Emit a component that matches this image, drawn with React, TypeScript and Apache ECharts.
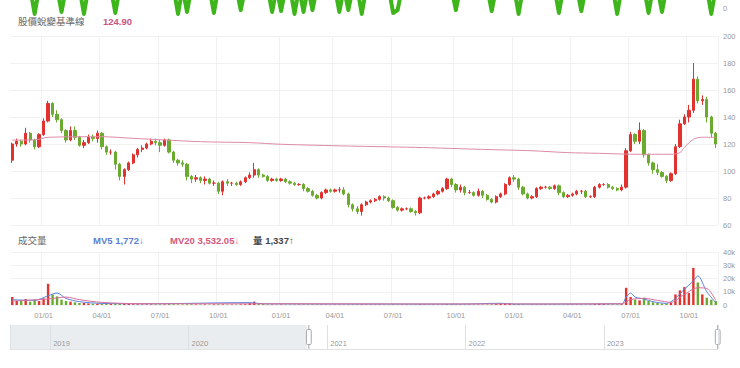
import React, { useEffect, useRef } from 'react';
import * as echarts from 'echarts';

const FONT = '"Liberation Sans", "Noto Sans CJK TC", sans-serif';

// weekly categories (Fridays) from 2020-11-13, 158 weeks
const FIRST_WEEK = '2020-11-13';
const WEEK_COUNT = 158;
const categories: string[] = [];
{
  const d0 = new Date(FIRST_WEEK + 'T00:00:00Z');
  for (let i = 0; i < WEEK_COUNT; i++) {
    const d = new Date(d0.getTime() + i * 7 * 86400000);
    categories.push(d.toISOString().slice(0, 10));
  }
}

// [open, close, low, high]
const candles: number[][] = [
  [108, 120, 106, 121], [120, 122, 118, 124], [122, 120, 118, 123], [120, 128, 119, 132], [128, 123, 121, 129],
  [123, 118, 116, 124], [118, 127, 117, 128], [127, 137, 126, 139], [137, 150, 136, 152], [150, 142, 140, 151],
  [142, 138, 136, 145], [138, 130, 128, 139], [130, 123, 121, 131], [123, 130, 122, 133], [130, 125, 123, 133],
  [125, 119, 118, 126], [119, 121, 117, 123], [121, 125, 120, 127], [125, 124, 122, 127], [124, 128, 121, 130],
  [128, 118, 116, 129], [118, 114, 112, 119], [114, 114, 112, 116], [114, 105, 101, 115], [105, 96, 93, 106],
  [96, 101, 90, 102], [101, 106, 100, 107], [106, 112, 105, 113], [112, 116, 110, 117], [116, 117, 114, 119],
  [117, 120, 116, 121], [120, 122, 119, 124], [122, 121, 119, 124], [121, 119, 114, 123], [119, 123, 118, 124],
  [123, 114, 113, 124], [114, 108, 106, 115], [108, 106, 104, 109], [106, 105, 103, 108], [105, 96, 93, 106],
  [96, 94, 91, 97], [94, 95, 92, 97], [95, 93, 91, 96], [93, 94, 90, 96], [94, 91, 90, 95],
  [91, 91, 89, 93], [91, 85, 83, 92], [85, 92, 82, 93], [92, 91, 89, 94], [91, 91, 89, 92],
  [91, 90, 89, 92], [90, 92, 89, 93], [92, 95, 91, 96], [95, 97, 94, 99], [97, 101, 95, 106],
  [101, 97, 95, 102], [97, 96, 95, 98], [96, 93, 92, 97], [93, 94, 92, 95], [94, 93, 92, 95],
  [93, 94, 92, 95], [94, 92, 91, 95], [92, 91, 90, 93], [91, 90, 89, 92], [90, 90, 89, 91],
  [90, 87, 85, 91], [87, 85, 84, 88], [85, 82, 81, 86], [82, 80, 79, 83], [80, 84, 79, 85],
  [84, 86, 83, 87], [86, 85, 84, 87], [85, 86, 84, 87], [86, 86, 84, 88], [86, 83, 82, 88],
  [83, 75, 73, 84], [75, 72, 70, 76], [72, 70, 68, 74], [70, 75, 67, 76], [75, 77, 74, 78],
  [77, 78, 76, 79], [78, 79, 77, 80], [79, 81, 78, 82], [81, 80, 78, 82], [80, 78, 77, 81],
  [78, 73, 72, 79], [73, 71, 70, 74], [71, 72, 70, 73], [72, 72, 71, 73], [72, 70, 69, 73],
  [70, 69, 67, 71], [69, 80, 68, 81], [80, 80, 79, 81], [80, 81, 79, 82], [81, 83, 80, 84],
  [83, 85, 82, 86], [85, 87, 84, 88], [87, 94, 86, 95], [94, 90, 88, 95], [90, 86, 84, 91],
  [86, 88, 84, 90], [88, 84, 82, 89], [84, 84, 83, 86], [84, 82, 81, 85], [82, 85, 81, 87],
  [85, 82, 80, 86], [82, 79, 78, 83], [79, 77, 76, 80], [77, 81, 76, 82], [81, 83, 80, 84],
  [83, 90, 82, 91], [90, 95, 89, 96], [95, 94, 92, 97], [94, 88, 86, 95], [88, 83, 82, 89],
  [83, 80, 79, 84], [80, 81, 79, 82], [81, 87, 80, 88], [87, 88, 86, 89], [88, 88, 87, 89],
  [88, 87, 86, 89], [87, 89, 86, 90], [89, 84, 82, 90], [84, 81, 80, 85], [81, 82, 80, 83],
  [82, 83, 81, 84], [83, 85, 82, 86], [85, 85, 83, 86], [85, 81, 80, 86], [81, 81, 80, 82],
  [81, 88, 80, 89], [88, 90, 87, 91], [90, 90, 89, 91], [90, 88, 87, 91], [88, 87, 86, 89],
  [87, 86, 85, 88], [86, 88, 85, 90], [88, 115, 87, 117], [115, 127, 114, 129], [127, 122, 120, 128],
  [122, 130, 120, 136], [130, 112, 110, 131], [112, 106, 104, 113], [106, 101, 98, 107], [101, 99, 97, 105],
  [99, 96, 95, 100], [96, 93, 91, 97], [93, 98, 92, 99], [98, 118, 97, 120], [118, 135, 117, 138],
  [135, 140, 134, 142], [140, 145, 136, 149], [145, 168, 143, 180], [168, 152, 150, 170], [152, 153, 149, 156],
  [153, 140, 136, 155], [140, 128, 125, 141], [128, 120, 117, 129],
];

// 股價蛻變基準線 (week index, value)
const baseLine: [number, number][] = [
  [0, 122.9], [5, 123], [8, 125], [20, 125.4], [27, 124.2], [34, 123], [42, 121.7], [53, 121],
  [60, 119.8], [75, 118.5], [90, 117.5], [105, 116], [116, 115], [124, 113.6], [131, 113.1],
  [139, 112.4], [147, 112.4], [149, 113.6], [150, 117.5], [152, 123.5], [154, 125], [157, 124.9],
];

const volumes: number[] = [
  6000, 3000, 3000, 4500, 2500, 4000, 3000, 5000, 16000, 8000,
  6500, 4000, 3000, 2500, 2000, 1500, 1500, 1200, 1000, 1000,
  900, 800, 700, 800, 1100, 900, 700, 600, 600, 500,
  500, 500, 600, 500, 500, 700, 600, 500, 500, 600,
  600, 500, 500, 500, 400, 500, 600, 500, 400, 400,
  400, 500, 600, 1500, 2500, 1200, 700, 500, 500, 400,
  400, 400, 400, 400, 400, 500, 500, 500, 500, 400,
  400, 400, 400, 400, 400, 500, 500, 500, 500, 400,
  400, 400, 400, 400, 400, 500, 400, 400, 400, 400,
  400, 600, 500, 400, 400, 400, 400, 600, 500, 400,
  400, 400, 400, 400, 400, 400, 400, 500, 700, 1200,
  1500, 1200, 800, 700, 500, 400, 400, 400, 400, 400,
  400, 400, 400, 400, 400, 400, 400, 400, 400, 400,
  700, 1000, 800, 600, 500, 500, 600, 13000, 6000, 4000,
  3500, 5500, 3000, 2000, 1500, 1000, 1000, 1500, 8000, 11000,
  13500, 9000, 28000, 17000, 8000, 5500, 4000, 3000,
];

const mv5: [number, number][] = [
  [0, 4000], [5, 3500], [8, 7000], [10, 9000], [12, 5000], [15, 2500], [20, 1200], [30, 900],
  [53, 1800], [56, 900], [100, 700], [109, 1300], [112, 700], [136, 900], [137, 6000], [138, 9000],
  [139, 6000], [141, 4500], [143, 2500], [146, 1200], [148, 5000], [150, 12000], [152, 18000],
  [153, 22000], [155, 10000], [157, 1800],
];
const mv20: [number, number][] = [
  [0, 3000], [8, 4500], [12, 6000], [15, 4000], [20, 2000], [28, 1000], [60, 900], [100, 800],
  [136, 900], [138, 4000], [141, 5000], [144, 3500], [147, 2000], [150, 8000], [153, 13000],
  [155, 12500], [157, 3500],
];

// bottom edge of the indicator panel above (week index, value)
const topPanel: [number, number][] = [
  [4, 10], [5, -3], [6, 10], [10, 10], [11, -2], [12, 10], [15, 10], [16, -3], [17, 10],
  [22, 10], [23, -2.5], [24, 10], [36, 10], [37, -3], [38, 10], [39, -2], [40, 10],
  [44, 10], [45, -2.5], [46, 10], [50, 10], [51, -1], [52, 10], [57, 10], [58, -2], [59, 10],
  [60, -1.5], [61, 10], [62, 10], [63, -3], [64, 10], [65, -2], [66, 10], [67, -1], [68, 10],
  [72, 10], [73, -2], [74, 10], [75, -1], [76, 10], [77, 10], [78, -3], [79, 10],
  [84, 10], [85, -2.5], [86, -1], [87, 10], [98, 10], [99, -1], [100, 10], [106, 10], [107, -1.5],
  [108, 10], [112, 10], [113, -3], [114, 10], [121, 10], [122, -2.5], [123, 10], [126, 10],
  [127, -1.5], [128, 10], [134, 10], [135, -3], [136, 10], [141, 10], [142, -2.5], [143, 10],
  [144, 10], [145, -2], [146, 10], [155, 10], [156, -3], [157, 10],
];

const SLIDER_RANGE = ['2018-09-17', '2023-10-29'];
const SLIDER_WINDOW = ['2020-11-09', '2023-10-29'];

const BASE_LABEL = '股價蛻變基準線';
const BASE_VALUE = '124.90';
const VOL_LABEL = '成交量';
const MV5_VALUE = '1,772↓';
const MV20_VALUE = '3,532.05↓';
const VOL_VALUE = '1,337↑';

const UP = '#e0322f';
const DOWN = '#6aab2f';

const ts = (s: string) => new Date(s + 'T00:00:00Z').getTime();

const isQuarterStart = (idx: number) => {
  if (idx === 0) return false;
  const m = Number(categories[idx].slice(5, 7));
  const pm = Number(categories[idx - 1].slice(5, 7));
  return m !== pm && (m === 1 || m === 4 || m === 7 || m === 10);
};

export default function App() {
  const ref = useRef<HTMLDivElement>(null);
  useEffect(() => {
    if (!ref.current) return;
    const chart = echarts.init(ref.current, undefined, { renderer: 'svg' });
    const axisLabelStyle = { color: '#999', fontSize: 7.5, fontFamily: FONT };
    const option: any = {
      animation: false,
      textStyle: { fontFamily: FONT },
      grid: [
        { left: 10, right: 22, top: 0, height: 36 },
        { left: 10, right: 22, top: 36, height: 189 },
        { left: 10, right: 22, top: 252, height: 53 },
        { left: 10, right: 22, top: 325, height: 24 },
      ],
      xAxis: [
        { type: 'category', gridIndex: 0, data: categories, show: false },
        {
          type: 'category', gridIndex: 1, data: categories,
          axisLine: { show: false }, axisTick: { show: false }, axisLabel: { show: false },
          splitLine: { show: true, interval: (i: number) => isQuarterStart(i), lineStyle: { color: '#f1f1f1' } },
        },
        {
          type: 'category', gridIndex: 2, data: categories,
          axisLine: { show: false }, axisTick: { show: false },
          axisLabel: {
            ...axisLabelStyle, margin: 7,
            interval: (i: number) => isQuarterStart(i),
            formatter: (v: string) => v.slice(5, 7) + '/01',
          },
          splitLine: { show: true, interval: (i: number) => isQuarterStart(i), lineStyle: { color: '#f1f1f1' } },
        },
        {
          type: 'time', gridIndex: 3, min: ts(SLIDER_RANGE[0]), max: ts(SLIDER_RANGE[1]), z: 10,
          minInterval: 365 * 86400000, maxInterval: 366 * 86400000,
          axisLine: { show: true, lineStyle: { color: '#e2e2e2' } }, axisTick: { show: false },
          splitLine: { show: true, lineStyle: { color: '#dde1e6' } },
          axisLabel: {
            ...axisLabelStyle, inside: true, margin: 2, align: 'left', padding: [0, 0, 0, 3],
            showMinLabel: false, showMaxLabel: false,
            formatter: (v: number) => {
              const d = new Date(v);
              return d.getUTCMonth() === 0 && d.getUTCDate() === 1 ? String(d.getUTCFullYear()) : '';
            },
          },
        },
        { type: 'time', gridIndex: 3, min: ts(SLIDER_RANGE[0]), max: ts(SLIDER_RANGE[1]), show: false, position: 'top' },
      ],
      yAxis: [
        {
          type: 'value', gridIndex: 0, min: -14, max: 4, interval: 2, position: 'right',
          axisLine: { show: false }, axisTick: { show: false }, splitLine: { show: false },
          axisLabel: { ...axisLabelStyle, margin: 5, formatter: (v: number) => (v === 0 ? '0' : '') },
        },
        {
          type: 'value', gridIndex: 1, min: 60, max: 200, interval: 20, position: 'right',
          axisLine: { show: false }, axisTick: { show: false },
          splitLine: { lineStyle: { color: '#f1f1f1' } },
          axisLabel: { ...axisLabelStyle, margin: 5 },
        },
        {
          type: 'value', gridIndex: 2, min: 0, max: 40000, interval: 10000, position: 'right',
          axisLine: { show: false }, axisTick: { show: false },
          splitLine: { lineStyle: { color: '#f1f1f1' } },
          axisLabel: { ...axisLabelStyle, margin: 5, formatter: (v: number) => (v === 0 ? '0' : v / 1000 + 'k') },
        },
        { type: 'value', gridIndex: 3, min: 0, max: 1, show: false },
      ],
      dataZoom: [
        {
          type: 'slider', xAxisIndex: 4, filterMode: 'none',
          startValue: ts(SLIDER_WINDOW[0]), endValue: ts(SLIDER_WINDOW[1]),
          left: 10, right: 22, top: 325, height: 24,
          showDetail: false, showDataShadow: false, brushSelect: false, moveHandleSize: 0,
          backgroundColor: 'transparent', fillerColor: 'transparent', borderColor: 'transparent',
          handleSize: '100%',
          handleStyle: { color: '#fff', borderColor: '#a8a8a8' },
        },
      ],
      series: [
        {
          type: 'line', xAxisIndex: 0, yAxisIndex: 0, data: topPanel, symbol: 'none',
          lineStyle: { color: '#3fb51c', width: 4, cap: 'round', join: 'round' }, clip: true, silent: true,
        },
        {
          type: 'candlestick', xAxisIndex: 1, yAxisIndex: 1, data: candles, barWidth: 2.8,
          itemStyle: { color: UP, color0: DOWN, borderColor: UP, borderColor0: DOWN, borderWidth: 1 },
        },
        {
          type: 'line', xAxisIndex: 1, yAxisIndex: 1, data: baseLine, symbol: 'none', smooth: 0.3,
          lineStyle: { color: '#dc8ba6', width: 1 },
        },
        {
          type: 'bar', xAxisIndex: 2, yAxisIndex: 2, barWidth: 2.4,
          data: volumes.map((v, i) => ({
            value: v,
            itemStyle: { color: candles[i][1] >= candles[i][0] ? UP : DOWN },
          })),
        },
        {
          type: 'line', xAxisIndex: 2, yAxisIndex: 2, data: mv5, symbol: 'none', smooth: 0.3,
          lineStyle: { color: '#5a84d8', width: 1 },
        },
        {
          type: 'line', xAxisIndex: 2, yAxisIndex: 2, data: mv20, symbol: 'none', smooth: 0.3,
          lineStyle: { color: '#d66f9a', width: 1 },
        },
        {
          type: 'line', xAxisIndex: 3, yAxisIndex: 3, symbol: 'none', silent: true, z: 0,
          data: [[ts(SLIDER_RANGE[0]), 0], [ts(SLIDER_RANGE[1]), 0]],
          lineStyle: { opacity: 0 },
          markArea: {
            silent: true, itemStyle: { color: '#e9edf0' },
            data: [[{ xAxis: ts(SLIDER_RANGE[0]) }, { xAxis: ts(SLIDER_WINDOW[0]) }]],
          },
        },
        {
          type: 'line', xAxisIndex: 4, yAxisIndex: 3, symbol: 'none', silent: true,
          data: [[ts(SLIDER_RANGE[0]), 0], [ts(SLIDER_RANGE[1]), 0]],
          lineStyle: { opacity: 0 },
        },
      ],
      graphic: [
        { type: 'text', x: 18, y: 21, z: 100, style: { text: BASE_LABEL, fill: '#666', fontSize: 9.5, fontFamily: FONT, verticalAlign: 'middle' } },
        { type: 'text', x: 103, y: 21, z: 100, style: { text: BASE_VALUE, fill: '#cc5480', fontSize: 9.5, fontWeight: 'bold', fontFamily: FONT, verticalAlign: 'middle' } },
        { type: 'text', x: 18, y: 240, style: { text: VOL_LABEL, fill: '#666', fontSize: 9.5, fontFamily: FONT, verticalAlign: 'middle' } },
        { type: 'text', x: 93, y: 240, style: { text: 'MV5 ' + MV5_VALUE, fill: '#5a7fd4', fontSize: 9.5, fontWeight: 'bold', fontFamily: FONT, verticalAlign: 'middle' } },
        { type: 'text', x: 170, y: 240, style: { text: 'MV20 ' + MV20_VALUE, fill: '#d2587f', fontSize: 9.5, fontWeight: 'bold', fontFamily: FONT, verticalAlign: 'middle' } },
        { type: 'text', x: 253, y: 240, style: { text: '量 ' + VOL_VALUE, fill: '#444', fontSize: 9.5, fontWeight: 'bold', fontFamily: FONT, verticalAlign: 'middle' } },
      ],
    };
    chart.setOption(option);
    return () => chart.dispose();
  }, []);
  return <div ref={ref} style={{ position: 'fixed', left: 0, top: 0, width: 740, height: 368, background: '#fff' }} />;
}
